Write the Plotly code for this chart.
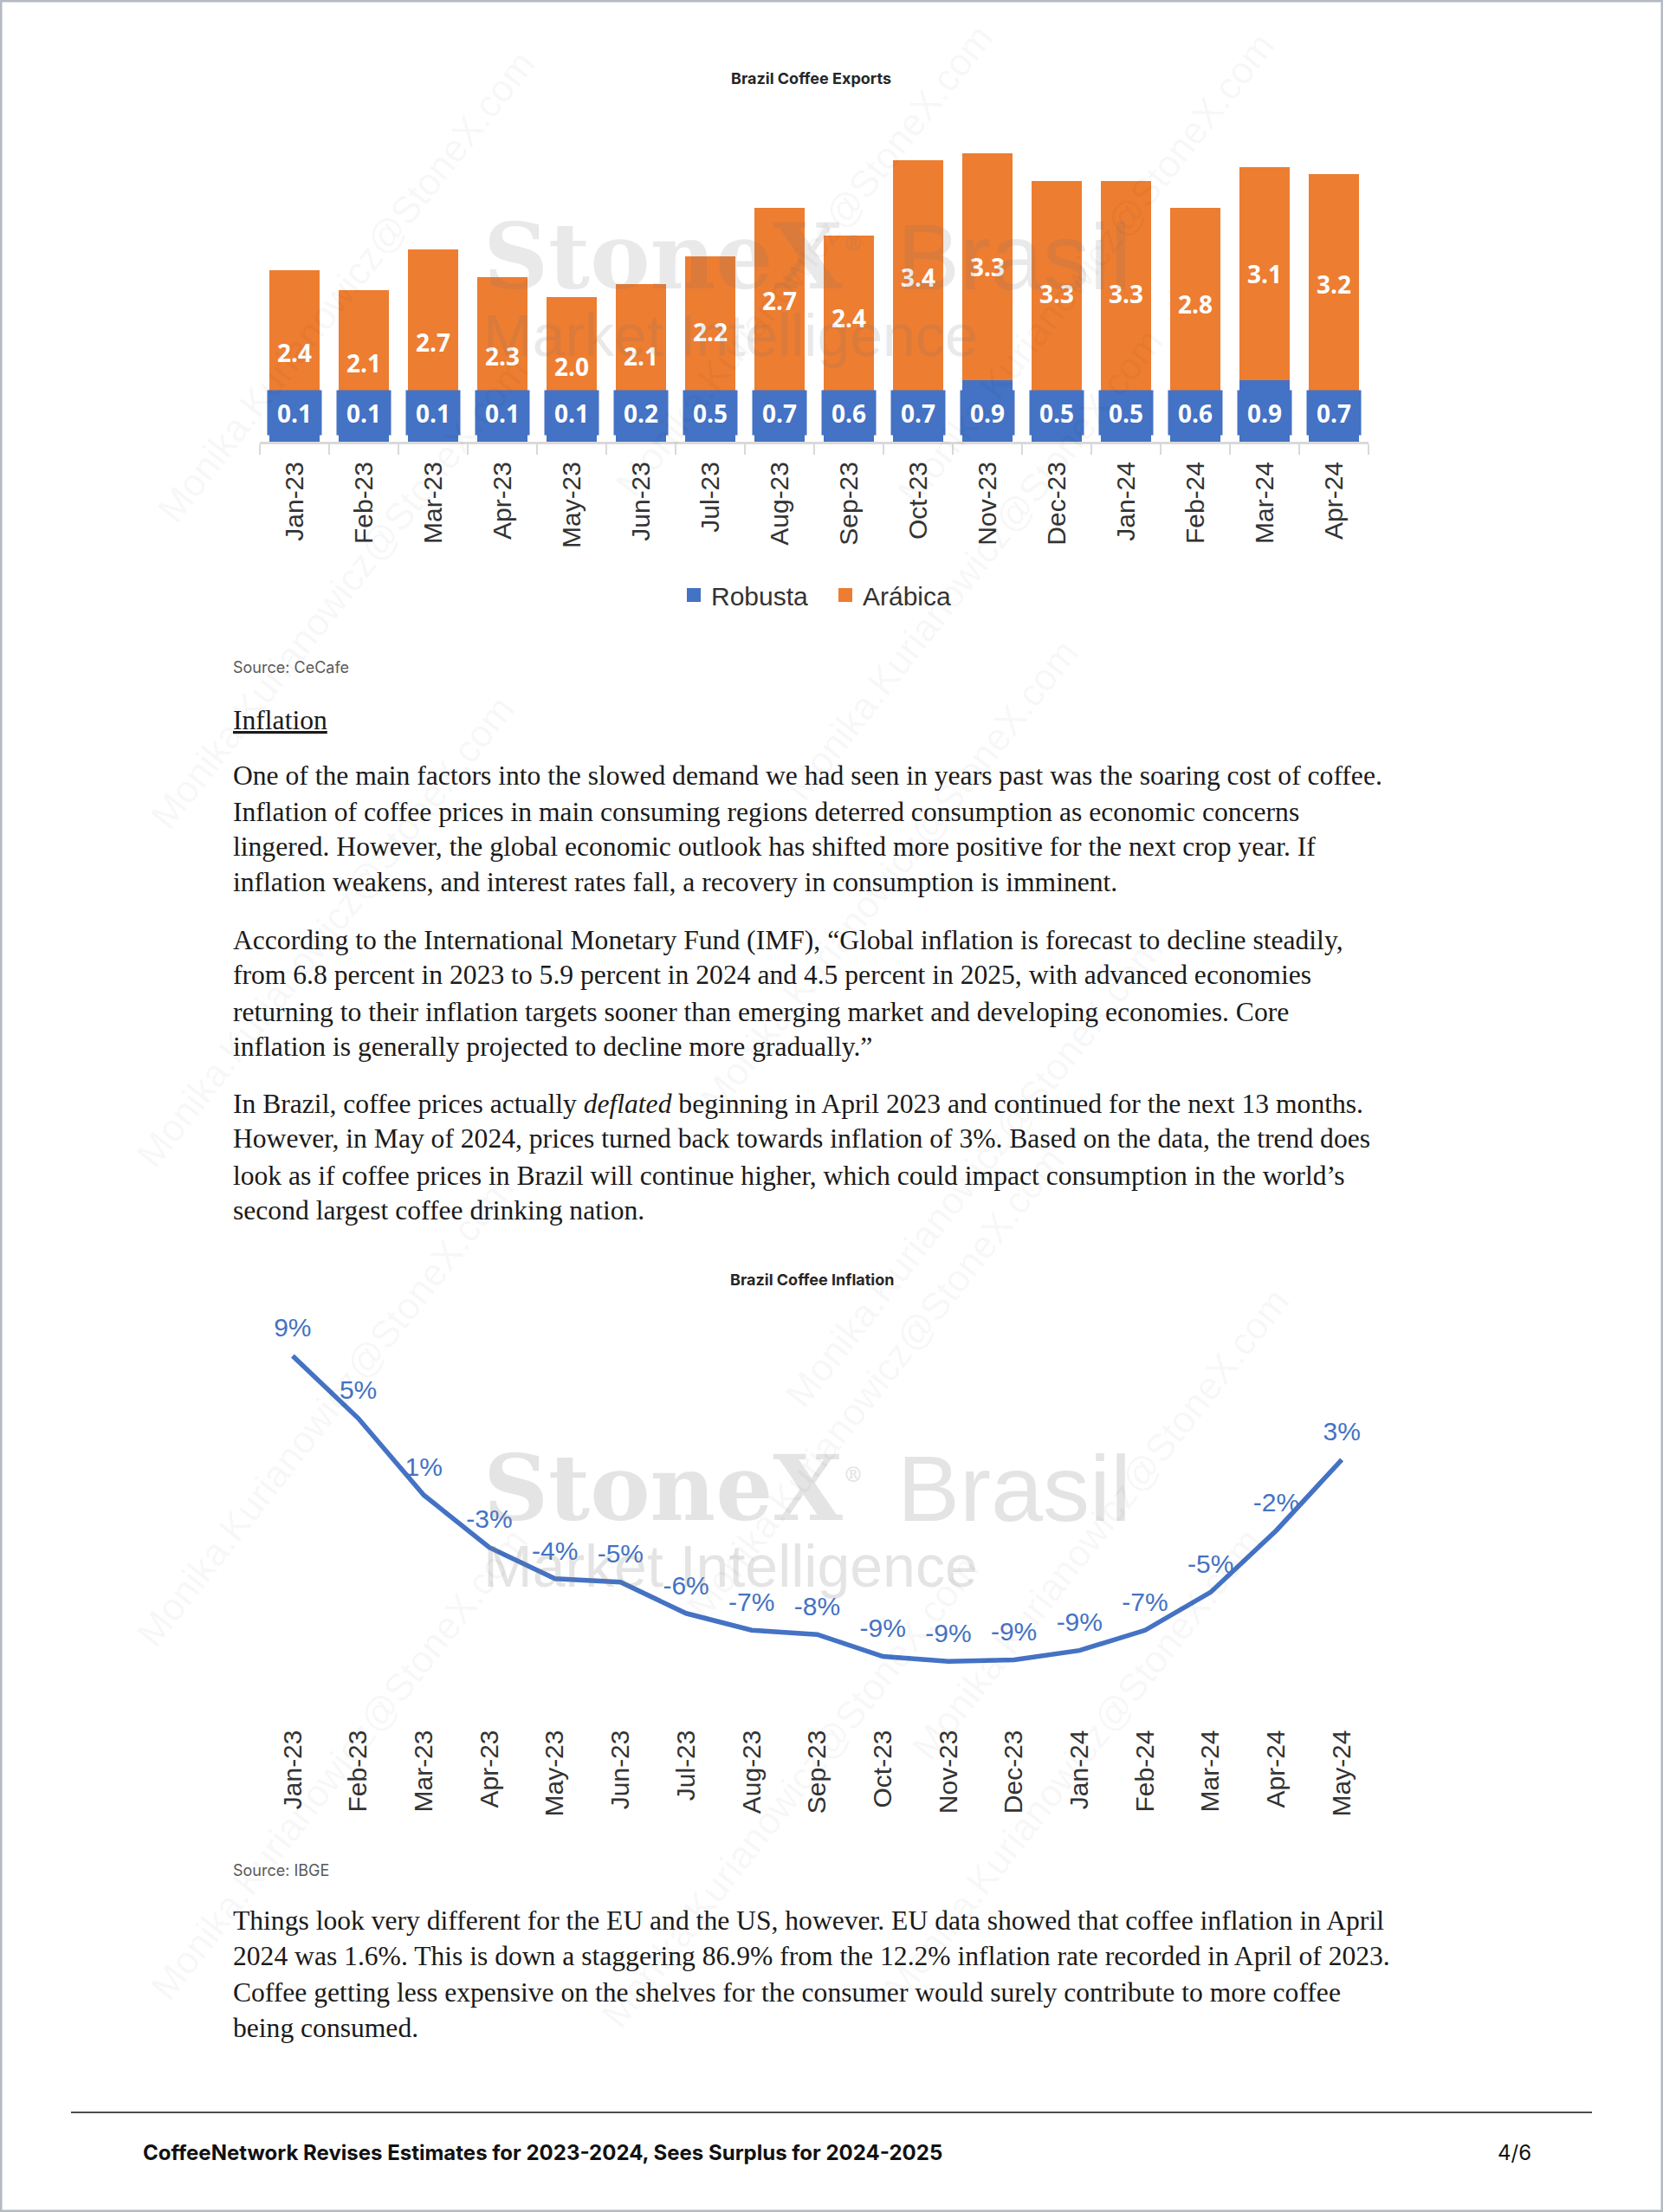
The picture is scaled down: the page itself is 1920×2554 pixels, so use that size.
import plotly.graph_objects as go

W, H = 1920, 2554

# ---------------- data ----------------
export_months = ["Jan-23", "Feb-23", "Mar-23", "Apr-23", "May-23", "Jun-23", "Jul-23", "Aug-23",
                 "Sep-23", "Oct-23", "Nov-23", "Dec-23", "Jan-24", "Feb-24", "Mar-24", "Apr-24"]
robusta = [0.1, 0.1, 0.1, 0.1, 0.1, 0.2, 0.5, 0.7, 0.6, 0.7, 0.9, 0.5, 0.5, 0.6, 0.9, 0.7]
arabica = [2.4, 2.1, 2.7, 2.3, 2.0, 2.1, 2.2, 2.7, 2.4, 3.4, 3.3, 3.3, 3.3, 2.8, 3.1, 3.2]

inflation_months = ["Jan-23", "Feb-23", "Mar-23", "Apr-23", "May-23", "Jun-23", "Jul-23", "Aug-23",
                    "Sep-23", "Oct-23", "Nov-23", "Dec-23", "Jan-24", "Feb-24", "Mar-24", "Apr-24",
                    "May-24"]
inflation = [8.8, 5.1, 0.55, -2.55, -4.4, -4.6, -6.45, -7.45, -7.7, -9.0, -9.3, -9.2, -8.65,
             -7.45, -5.2, -1.55, 2.65]

para1 = [
    "One of the main factors into the slowed demand we had seen in years past was the soaring cost of coffee.",
    "Inflation of coffee prices in main consuming regions deterred consumption as economic concerns",
    "lingered. However, the global economic outlook has shifted more positive for the next crop year. If",
    "inflation weakens, and interest rates fall, a recovery in consumption is imminent.",
]
para2 = [
    "According to the International Monetary Fund (IMF), \u201cGlobal inflation is forecast to decline steadily,",
    "from 6.8 percent in 2023 to 5.9 percent in 2024 and 4.5 percent in 2025, with advanced economies",
    "returning to their inflation targets sooner than emerging market and developing economies. Core",
    "inflation is generally projected to decline more gradually.\u201d",
]
para3 = [
    "In Brazil, coffee prices actually <i>deflated</i> beginning in April 2023 and continued for the next 13 months.",
    "However, in May of 2024, prices turned back towards inflation of 3%. Based on the data, the trend does",
    "look as if coffee prices in Brazil will continue higher, which could impact consumption in the world\u2019s",
    "second largest coffee drinking nation.",
]
para4 = [
    "Things look very different for the EU and the US, however. EU data showed that coffee inflation in April",
    "2024 was 1.6%. This is down a staggering 86.9% from the 12.2% inflation rate recorded in April of 2023.",
    "Coffee getting less expensive on the shelves for the consumer would surely contribute to more coffee",
    "being consumed.",
]

# ---------------- styling ----------------
BLUE = "#4472C4"
ORANGE = "#ED7D31"
AXIS_GRAY = "#d9d9d9"
TICK_FONT = dict(family="Liberation Sans, Arial, sans-serif", size=30, color="#333333")
LABEL_FONT = dict(family="Open Sans, sans-serif", size=28, color="white", weight="bold")
BODY_FONT = dict(family="Liberation Serif, serif", size=31.6, color="#1a1a1a")


def fx(px):
    return px / W


def fy(py):
    return 1 - py / H


# bar chart geometry
bar_x0, bar_x1 = 300, 1580
bar_base, bar_top = 510, 153
bar_range = [0, 4.5]

# line chart geometry
line_x0, line_x1 = 300, 1587
line_bottom, line_top = 1990.5, 1522.5
line_range = [-13, 11]

fig = go.Figure()

# ---------------- bar chart ----------------
fig.add_trace(go.Bar(
    x=export_months, y=robusta, name="Robusta", marker=dict(color=BLUE, line=dict(width=0)),
    showlegend=False, xaxis="x", yaxis="y", hoverinfo="skip",
))
fig.add_trace(go.Bar(
    x=export_months, y=arabica, name="Ar\u00e1bica", marker=dict(color=ORANGE, line=dict(width=0)),
    text=[f"{v:.1f}" for v in arabica], textposition="inside", insidetextanchor="middle",
    textangle=0, constraintext="none", textfont=LABEL_FONT,
    showlegend=False, xaxis="x", yaxis="y", hoverinfo="skip",
))
# legend entries
fig.add_trace(go.Scatter(x=[None], y=[None], mode="markers", name="Robusta",
                         marker=dict(symbol="square", size=18, color=BLUE), xaxis="x", yaxis="y"))
fig.add_trace(go.Scatter(x=[None], y=[None], mode="markers", name="Ar\u00e1bica",
                         marker=dict(symbol="square", size=18, color=ORANGE), xaxis="x", yaxis="y"))

# ---------------- line chart ----------------
fig.add_trace(go.Scatter(
    x=inflation_months, y=inflation, mode="lines+markers+text",
    line=dict(color=BLUE, width=5.5),
    marker=dict(size=22, color="rgba(0,0,0,0)"),
    text=[f"{v:.0f}%" for v in inflation], textposition="top center",
    textfont=dict(family="Liberation Sans, Arial, sans-serif", size=30, color=BLUE),
    showlegend=False, xaxis="x2", yaxis="y2", hoverinfo="skip", cliponaxis=False,
))

y2_dom = [fy(line_bottom), fy(line_top)]
zero_pos = y2_dom[0] + (0 - line_range[0]) / (line_range[1] - line_range[0]) * (y2_dom[1] - y2_dom[0])
n_inf = len(inflation_months)

fig.update_layout(
    width=W, height=H,
    margin=dict(l=0, r=0, t=0, b=0),
    paper_bgcolor="white", plot_bgcolor="rgba(0,0,0,0)",
    template="none",
    barmode="stack", bargap=0.27,
    showlegend=True,
    legend=dict(orientation="h", x=fx(781), xanchor="left", y=fy(687), yanchor="middle",
                traceorder="normal", entrywidth=130, entrywidthmode="pixels",
                font=dict(family="Liberation Sans, Arial, sans-serif", size=30, color="#333333"),
                bgcolor="rgba(0,0,0,0)", itemsizing="trace"),
    xaxis=dict(domain=[fx(bar_x0), fx(bar_x1)], anchor="y", type="category",
               range=[-0.5, len(export_months) - 0.5],
               showline=True, linecolor=AXIS_GRAY, linewidth=3,
               ticks="outside", tickson="boundaries", ticklen=12, tickcolor=AXIS_GRAY, tickwidth=2,
               tickangle=-90, tickfont=TICK_FONT, ticklabelstandoff=8,
               showgrid=False, zeroline=False, automargin=False, fixedrange=True),
    yaxis=dict(domain=[fy(bar_base), fy(bar_top)], anchor="x", range=bar_range,
               visible=False, showgrid=False, zeroline=False, automargin=False),
    xaxis2=dict(domain=[fx(line_x0), fx(line_x1)], anchor="y2", type="category",
                range=[-0.5, n_inf - 0.5],
                showline=False, ticks="", tickangle=-90, tickfont=TICK_FONT,
                showgrid=False, zeroline=False, automargin=False),
    yaxis2=dict(domain=y2_dom, anchor="x2", range=line_range,
                visible=False, showgrid=False, zeroline=False, automargin=False),
    xaxis3=dict(domain=[fx(line_x0), fx(line_x1)], overlaying="x2", anchor="free", position=zero_pos,
                type="linear", range=[-0.5, n_inf - 0.5],
                tickvals=[i - 0.5 for i in range(n_inf + 1)],
                showline=True, linecolor=AXIS_GRAY, linewidth=3,
                ticks="outside", ticklen=11, tickcolor=AXIS_GRAY, tickwidth=2,
                showticklabels=False, showgrid=False, zeroline=False, automargin=False),
)

annotations = []

# Robusta data labels (boxed, at bar base)
for m, v in zip(export_months, robusta):
    annotations.append(dict(
        xref="x", yref="y", x=m, y=0, yanchor="bottom", yshift=7,
        text=f"{v:.1f}", showarrow=False, width=62, height=51, borderpad=0,
        bgcolor=BLUE, font=LABEL_FONT, align="center", valign="middle",
    ))


def paper_text(text, x, y, font, xanchor="left", yanchor="middle", angle=0):
    annotations.append(dict(xref="paper", yref="paper", x=fx(x), y=fy(y), text=text,
                            showarrow=False, xanchor=xanchor, yanchor=yanchor, font=font,
                            textangle=angle, align="left"))


# watermark (logos) - faint
for cy, alpha in ((297, 0.16), (1718, 0.20)):
    col = f"rgba(120,120,120,{alpha})"
    paper_text("StoneX<sup><span style='font-size:24px'>\u00ae</span></sup>", 556, cy,
               dict(family="DejaVu Serif, serif", size=104, color=col, weight="bold"))
    paper_text("Brasil", 1034, cy, dict(family="Liberation Sans, sans-serif", size=108, color=col))
    paper_text("Market Intelligence", 556, cy + 90,
               dict(family="Liberation Sans, sans-serif", size=68, color=col))

# diagonal e-mail watermarks - very faint
wm_font = dict(family="Liberation Sans, sans-serif", size=44, color="rgba(0,0,0,0.045)")
for (cx, cy) in [(399, 330), (928, 300), (1254, 310), (391, 684), (1124, 651),
                 (1026, 1010), (375, 1075), (1124, 1352), (375, 1628), (1010, 1596),
                 (1270, 1759), (391, 2036), (912, 2068), (1238, 2036)]:
    paper_text("Monika.Kurianowicz@StoneX.com", cx, cy, wm_font, xanchor="center", angle=-52)

# chart titles & sources
title_font = dict(family="Inter, sans-serif", size=18, color="#262626", weight="bold")
paper_text("Brazil Coffee Exports", 936, 90, title_font, xanchor="center")
paper_text("Brazil Coffee Inflation", 938, 1477, title_font, xanchor="center")
src_font = dict(family="Inter, sans-serif", size=18, color="#595959")
paper_text("Source: CeCafe", 267, 770, src_font)
paper_text("Source: IBGE", 267, 2159, src_font)

# body text
paper_text("<u>Inflation</u>", 267, 831, BODY_FONT)
for lines, ys in [(para1, [896, 937, 977, 1019]), (para2, [1085, 1125, 1168, 1208]),
                  (para3, [1274, 1314, 1357, 1397]), (para4, [2217, 2258, 2300, 2341])]:
    for t, yy in zip(lines, ys):
        paper_text(t, 267, yy, BODY_FONT)

# footer
paper_text("CoffeeNetwork Revises Estimates for 2023-2024, Sees Surplus for 2024-2025", 163, 2485,
           dict(family="Inter, sans-serif", size=24, color="#111111", weight="bold"))
paper_text("4/6", 1727, 2485, dict(family="Inter, sans-serif", size=24, color="#111111"))

fig.update_layout(annotations=annotations)

fig.update_layout(shapes=[
    dict(type="line", xref="paper", yref="paper", x0=fx(82), x1=fx(1838), y0=fy(2439), y1=fy(2439),
         line=dict(color="#111111", width=1.5)),
    dict(type="rect", xref="paper", yref="paper", x0=0, x1=1, y0=0, y1=1,
         line=dict(color="#b4b9c2", width=5), fillcolor="rgba(0,0,0,0)"),
])

fig.write_html("out.html", config={"displayModeBar": False},
               post_script="document.body.style.margin='0px';")
